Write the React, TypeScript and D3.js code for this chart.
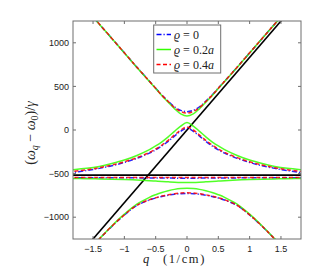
import React from "react";
import * as d3 from "d3";

// wave number grid (1/cm)
const qs = [-1.9, -1.6, -1.4, -1.2, -1.0, -0.8, -0.6, -0.5, -0.4, -0.3, -0.2, -0.1, 0, 0.1, 0.2, 0.3, 0.4, 0.5, 0.6, 0.8, 1.0, 1.2, 1.4, 1.6, 1.9];

// rho = 0
const upper0 = [1630, 1380, 1215, 1050, 885, 720, 560, 480, 400, 330, 265, 225, 210, 225, 265, 330, 400, 480, 560, 720, 885, 1050, 1215, 1380, 1630];
const middle0 = [-495, -465, -440, -410, -372, -325, -265, -228, -182, -130, -70, -15, 20, -15, -70, -130, -182, -228, -265, -325, -372, -410, -440, -465, -495];
const flat0 = [-546, -547, -547, -548, -548, -549, -550, -550, -551, -551, -552, -552, -552, -552, -552, -551, -551, -550, -550, -549, -548, -548, -547, -547, -546];
const lower0 = [-1650, -1405, -1250, -1105, -975, -865, -803, -780, -762, -748, -737, -730, -727, -730, -737, -748, -762, -780, -803, -865, -975, -1105, -1250, -1405, -1650];

// rho = 0.2a
const upper2 = [1629, 1379, 1214, 1049, 884, 718, 556, 475, 393, 318, 245, 185, 160, 185, 245, 318, 393, 475, 556, 718, 884, 1049, 1214, 1379, 1629];
const middle2 = [-460, -440, -418, -385, -345, -292, -225, -183, -135, -78, -15, 45, 85, 45, -15, -78, -135, -183, -225, -292, -345, -385, -418, -440, -460];
const flat2 = [-556, -558, -561, -564, -568, -574, -581, -585, -590, -594, -598, -601, -602, -601, -598, -594, -590, -585, -581, -574, -568, -564, -561, -558, -556];
const lower2 = [-1649, -1403, -1248, -1100, -965, -850, -772, -742, -717, -697, -681, -671, -668, -671, -681, -697, -717, -742, -772, -850, -965, -1100, -1248, -1403, -1649];

// rho = 0.4a
const upper4 = [1630, 1380, 1215, 1050, 885, 720, 558, 478, 398, 326, 258, 212, 193, 212, 258, 326, 398, 478, 558, 720, 885, 1050, 1215, 1380, 1630];
const middle4 = [-482, -456, -432, -402, -365, -317, -257, -218, -172, -118, -58, 0, 35, 0, -58, -118, -172, -218, -257, -317, -365, -402, -432, -456, -482];
const flat4 = [-544, -544, -544, -544, -544, -544, -544, -544, -544, -544, -544, -544, -544, -544, -544, -544, -544, -544, -544, -544, -544, -544, -544, -544, -544];
const lower4 = [-1650, -1405, -1250, -1104, -973, -863, -800, -777, -758, -743, -731, -723, -720, -723, -731, -743, -758, -777, -800, -863, -973, -1104, -1250, -1405, -1650];

// bare modes
const lightQ = [-1.9, 1.9];
const lightV = [-1583, 1583];
const bareQ = [-1.9, 1.9];
const bareV = [-518, -518];

const xTicks = [-1.5, -1, -0.5, 0, 0.5, 1, 1.5];
const yTicks = [-1000, -500, 0, 500, 1000];

const series = [
  { label: "0", color: "#0000ff", dash: "5,2,1.2,2", branches: [upper0, middle0, flat0, lower0] },
  { label: "0.2", color: "#33ff00", dash: "", branches: [upper2, middle2, flat2, lower2] },
  { label: "0.4", color: "#ff0000", dash: "4,2.5", branches: [upper4, middle4, flat4, lower4] },
];

const W = 332;
const H = 269;
const left = 73;
const right = 301;
const top = 21;
const bottom = 239;

const fmt = (v: number) => (v < 0 ? "\u2212" + Math.abs(v) : String(v));

export default function App() {
  const x = d3.scaleLinear().domain([-1.82, 1.82]).range([left, right]);
  const y = d3.scaleLinear().domain([-1250, 1250]).range([bottom, top]);
  const line = d3
    .line<[number, number]>()
    .x(d => x(d[0]))
    .y(d => y(d[1]))
    .curve(d3.curveCatmullRom);
  const path = (xs: number[], vs: number[]) => line(xs.map((q, i) => [q, vs[i]] as [number, number])) || "";

  const axisColor = "#6e6e6e";
  const tickFont = "'Liberation Sans', Arial, sans-serif";
  const mathFont = "'Liberation Serif', 'Times New Roman', serif";

  return (
    <svg width={W} height={H} style={{ position: "absolute", left: 0, top: 0 }}>
      <rect width={W} height={H} fill="#fff" />
      <defs>
        <clipPath id="plot">
          <rect x={left} y={top} width={right - left} height={bottom - top} />
        </clipPath>
      </defs>
      <g clipPath="url(#plot)" fill="none">
        <path d={path(lightQ, lightV)} stroke="#000" strokeWidth={1.6} />
        <path d={path(bareQ, bareV)} stroke="#000" strokeWidth={1.6} />
        {series.map(s =>
          s.branches.map((b, j) => (
            <path
              key={s.label + j}
              d={path(qs, b)}
              stroke={s.color}
              strokeWidth={1.5}
              strokeDasharray={s.dash || undefined}
              strokeOpacity={0.85}
            />
          ))
        )}
      </g>
      {/* box and ticks */}
      <rect x={left} y={top} width={right - left} height={bottom - top} fill="none" stroke={axisColor} strokeWidth={1} />
      {xTicks.map(t => (
        <g key={"x" + t}>
          <line x1={x(t)} x2={x(t)} y1={bottom} y2={bottom - 3} stroke={axisColor} />
          <line x1={x(t)} x2={x(t)} y1={top} y2={top + 3} stroke={axisColor} />
          <text x={x(t)} y={251.5} textAnchor="middle" fontFamily={tickFont} fontSize={9} fill="#222">
            {fmt(t)}
          </text>
        </g>
      ))}
      {yTicks.map(t => (
        <g key={"y" + t}>
          <line x1={left} x2={left + 3} y1={y(t)} y2={y(t)} stroke={axisColor} />
          <line x1={right} x2={right - 3} y1={y(t)} y2={y(t)} stroke={axisColor} />
          <text x={69} y={y(t) + 3.2} textAnchor="end" fontFamily={tickFont} fontSize={9} fill="#222">
            {fmt(t)}
          </text>
        </g>
      ))}
      {/* legend */}
      <g>
        <rect x={153.7} y={25} width={67} height={48} fill="#fff" stroke={axisColor} strokeWidth={1} />
        {series.map((s, i) => {
          const ly = 34.5 + i * 15;
          return (
            <g key={"lg" + s.label}>
              <line x1={156.5} x2={171} y1={ly} y2={ly} stroke={s.color} strokeWidth={1.5} strokeDasharray={s.dash || undefined} />
              <text x={174} y={ly + 4} fontFamily={mathFont} fontSize={12} fill="#222">
                <tspan fontStyle="italic">ϱ</tspan>
                <tspan> = {s.label}</tspan>
                {s.label !== "0" && <tspan fontStyle="italic">a</tspan>}
              </text>
            </g>
          );
        })}
      </g>
      {/* axis labels */}
      <text x={146} y={263} textAnchor="middle" fontFamily={mathFont} fontSize={12.5} fontStyle="italic" fill="#222">
        q
      </text>
      <text x={163} y={263} fontFamily={mathFont} fontSize={12.5} letterSpacing={1.6} fill="#222">
        (1/cm)
      </text>
      <text transform="translate(35,133) rotate(-90)" textAnchor="middle" fontFamily={mathFont} fontSize={14} fill="#222">
        <tspan>(</tspan>
        <tspan fontStyle="italic">ω</tspan>
        <tspan fontStyle="italic" fontSize={10} dy={3}>q</tspan>
        <tspan dy={-3}> − </tspan>
        <tspan fontStyle="italic">ω</tspan>
        <tspan fontSize={10} dy={3}>0</tspan>
        <tspan dy={-3}>)/</tspan>
        <tspan fontStyle="italic">γ</tspan>
      </text>
    </svg>
  );
}
